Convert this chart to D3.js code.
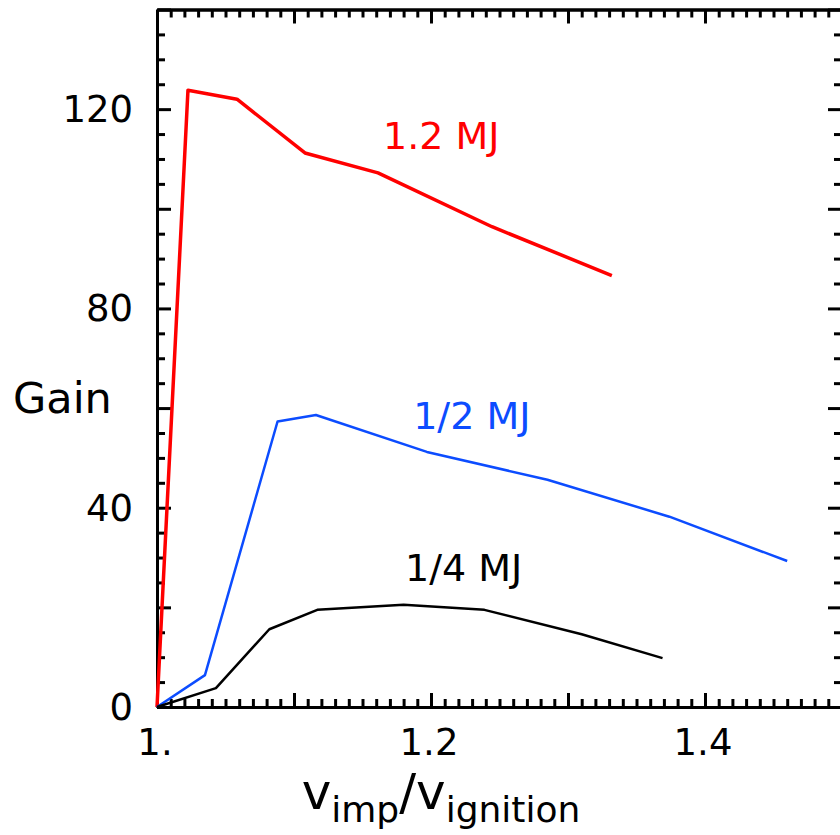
<!DOCTYPE html>
<html>
<head>
<meta charset="utf-8">
<script src="https://cdn.jsdelivr.net/npm/d3@7"></script>
<style>
  body { margin: 0; background: #fff; }
  svg text { font-family: "DejaVu Sans", sans-serif; }
</style>
</head>
<body>
<div class="gain-viz"></div>
<script>
// Gain vs v_imp / v_ignition
const red_x = [1.0, 1.0226, 1.0584, 1.108, 1.1613, 1.2445, 1.332];
const red_y = [0, 123.8, 122.0, 111.2, 107.2, 96.4, 86.6];

const blue_x = [1.0, 1.035, 1.088, 1.116, 1.197, 1.285, 1.374, 1.46];
const blue_y = [0, 6.4, 57.3, 58.6, 51.2, 45.6, 38.2, 29.3];

const black_x = [1.0, 1.043, 1.082, 1.117, 1.18, 1.239, 1.31, 1.369];
const black_y = [0, 3.8, 15.6, 19.5, 20.5, 19.5, 14.6, 9.8];

const series_labels = ["1.2 MJ", "1/2 MJ", "1/4 MJ"];
const series_colors = ["#ff0000", "#0c4cff", "#000000"];
// where the labels sit, in data units (x = left edge, y = baseline)
const label_x = [1.165, 1.187, 1.181];
const label_y = [112, 55.7, 25.2];

const x_tick_labels = ["1.", "1.2", "1.4"];
const x_tick_values = [1.0, 1.2, 1.4];
const y_tick_values = [0, 40, 80, 120];

const total_width = 840;
const total_height = 835;
const margin = {top: 9.5, right: -2, bottom: 128, left: 157};
const chart_width = total_width - margin.left - margin.right;
const chart_height = total_height - margin.top - margin.bottom;

let svg = d3.select(".gain-viz")
    .append("svg")
    .attr("width", total_width)
    .attr("height", total_height)
    .append("g")
    .attr("transform", "translate(" + margin.left + ", " + margin.top + ")");

const x = d3.scaleLinear()
    .domain([1.0, 1.5])
    .range([0, chart_width]);

const y = d3.scaleLinear()
    .domain([0, 140])
    .range([chart_height, 0]);

const major_x = d3.range(10, 15).map(v => v / 10);
const minor_x = d3.range(100, 151).map(v => v / 100).filter(v => !major_x.some(m => Math.abs(m - v) < 1e-9));
const major_y = d3.range(0, 141, 20);
const minor_y = d3.range(0, 141, 5).filter(v => v % 20 !== 0);

function styleAxis(g) {
    g.selectAll("path, line").attr("stroke", "#000").attr("stroke-width", 3);
    g.selectAll("text").remove();
}

// bottom + top axes, ticks pointing inward
[[d3.axisBottom, chart_height], [d3.axisTop, 0]].forEach(([ax, ty]) => {
    svg.append("g")
        .attr("transform", "translate(0," + ty + ")")
        .call(ax(x).tickValues(major_x).tickSize(-14).tickSizeOuter(0))
        .call(styleAxis);
    svg.append("g")
        .attr("transform", "translate(0," + ty + ")")
        .call(ax(x).tickValues(minor_x).tickSize(-8).tickSizeOuter(0))
        .call(styleAxis);
});

// left + right axes
[[d3.axisLeft, 0], [d3.axisRight, chart_width]].forEach(([ax, tx]) => {
    svg.append("g")
        .attr("transform", "translate(" + tx + ",0)")
        .call(ax(y).tickValues(major_y).tickSize(-14).tickSizeOuter(0))
        .call(styleAxis);
    svg.append("g")
        .attr("transform", "translate(" + tx + ",0)")
        .call(ax(y).tickValues(minor_y).tickSize(-8).tickSizeOuter(0))
        .call(styleAxis);
});

// tick labels
svg.selectAll("xlabel")
    .data(x_tick_values)
    .enter()
    .append("text")
    .text((d, i) => x_tick_labels[i])
    .attr("x", d => x(d) - 2)
    .attr("y", chart_height + 48)
    .attr("font-size", "37px")
    .attr("text-anchor", "middle");

svg.selectAll("ylabel")
    .data(y_tick_values)
    .enter()
    .append("text")
    .text(d => d)
    .attr("x", -24)
    .attr("y", d => y(d) + 13)
    .attr("font-size", "37px")
    .attr("text-anchor", "end");

// axis titles
svg.append("text")
    .text("Gain")
    .attr("x", 13 - margin.left)
    .attr("y", 413 - margin.top)
    .attr("font-size", "43px")
    .attr("font-family", "Liberation Sans, sans-serif");

const xtitle = svg.append("text")
    .attr("x", 441 - margin.left)
    .attr("y", 809 - margin.top)
    .attr("font-size", "50px")
    .attr("text-anchor", "middle");
xtitle.append("tspan").text("v");
xtitle.append("tspan").text("imp").attr("font-size", "36px").attr("dy", 13);
xtitle.append("tspan").text("/").attr("dy", -13);
xtitle.append("tspan").text("v");
xtitle.append("tspan").text("ignition").attr("font-size", "36px").attr("dy", 13);

// curves
const series = [
    red_x.map((v, i) => [v, red_y[i]]),
    blue_x.map((v, i) => [v, blue_y[i]]),
    black_x.map((v, i) => [v, black_y[i]])
];
const line = d3.line().x(d => x(d[0])).y(d => y(d[1]));

svg.selectAll("curve")
    .data(series)
    .enter()
    .append("path")
    .attr("d", line)
    .attr("fill", "none")
    .attr("stroke", (d, i) => series_colors[i])
    .attr("stroke-width", (d, i) => i === 0 ? 3.5 : 2.5)
    .attr("stroke-linejoin", "round");

svg.selectAll("curvelabel")
    .data(series_labels)
    .enter()
    .append("text")
    .text(d => d)
    .attr("x", (d, i) => x(label_x[i]))
    .attr("y", (d, i) => y(label_y[i]))
    .attr("font-size", "38px")
    .attr("fill", (d, i) => series_colors[i]);
</script>
</body>
</html>
